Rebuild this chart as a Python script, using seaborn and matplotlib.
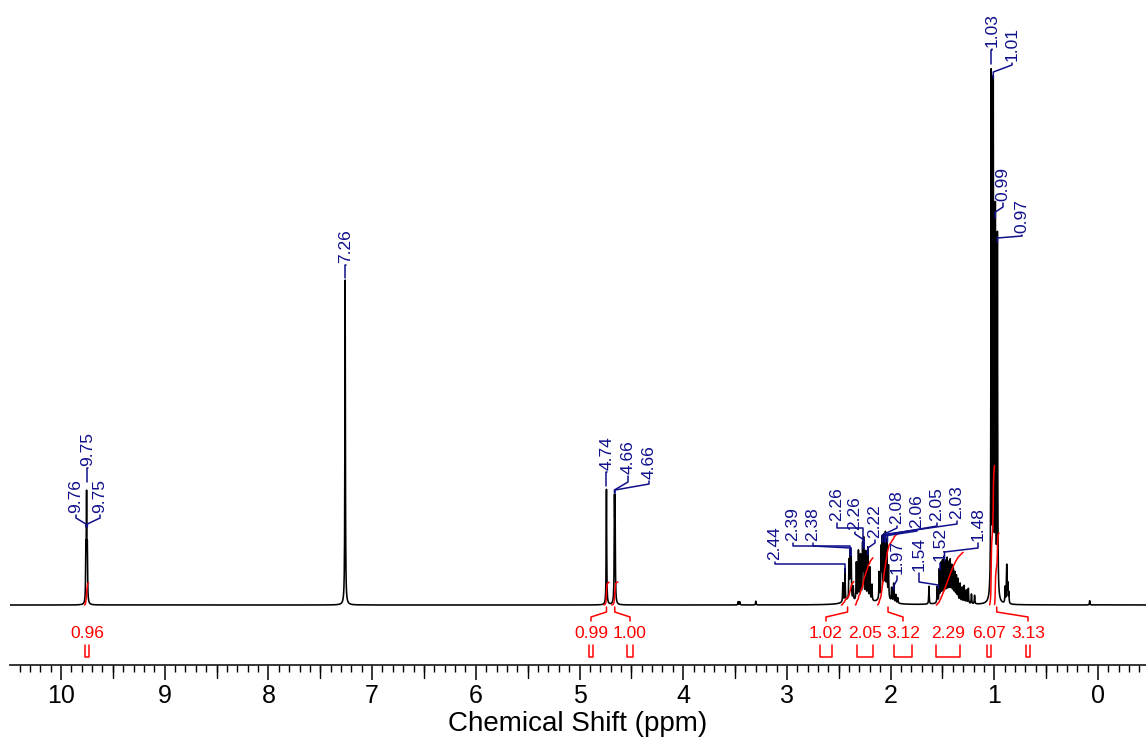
import numpy as np
import matplotlib
matplotlib.use("Agg")
import matplotlib.pyplot as plt
import matplotlib.transforms as mtransforms
from matplotlib.ticker import FixedLocator, MultipleLocator
import seaborn as sns

# ---------------- data ----------------
# peak list of the 1H spectrum: position (ppm) and apparent height (tallest = 1)
peak_ppm = [9.760, 9.753, 9.746,
            7.26,
            4.740, 4.663, 4.657,
            3.470, 3.455, 3.300,
            2.460, 2.440, 2.400, 2.390, 2.380, 2.360,
            2.330, 2.310, 2.290, 2.270, 2.260, 2.240, 2.220, 2.200, 2.180,
            2.110, 2.090, 2.080, 2.065, 2.050, 2.035, 2.020, 1.990, 1.970, 1.950, 1.930,
            1.630,
            1.550, 1.530, 1.515, 1.500, 1.485, 1.470, 1.455, 1.440, 1.425, 1.410,
            1.395, 1.380, 1.365, 1.350, 1.330, 1.310, 1.290, 1.270, 1.250, 1.220, 1.190,
            1.030, 1.010, 0.990, 0.970,
            0.895, 0.880, 0.870, 0.860,
            0.080]
peak_height = [0.09, 0.19, 0.09,
               0.605,
               0.215, 0.174, 0.174,
               0.006, 0.006, 0.007,
               0.035, 0.060, 0.070, 0.085, 0.080, 0.025,
               0.070, 0.090, 0.080, 0.095, 0.105, 0.085, 0.095, 0.060, 0.030,
               0.050, 0.090, 0.105, 0.110, 0.115, 0.105, 0.060, 0.025, 0.035, 0.015, 0.010,
               0.033,
               0.030, 0.060, 0.070, 0.072, 0.078, 0.068, 0.072, 0.062, 0.066, 0.056,
               0.052, 0.048, 0.044, 0.040, 0.034, 0.028, 0.032, 0.024, 0.028, 0.018, 0.016,
               0.975, 0.950, 0.715, 0.675,
               0.030, 0.070, 0.035, 0.020,
               0.008]
# broad underlying humps of the aliphatic multiplets
hump_ppm = [2.41, 2.26, 2.06, 1.42]
hump_height = [0.006, 0.010, 0.012, 0.014]

# peak labels (blue)
label_text = ["9.76", "9.75", "9.75", "7.26", "4.74", "4.66", "4.66",
              "2.44", "2.39", "2.38", "2.26", "2.26", "2.22",
              "2.08", "2.06", "2.05", "2.03", "1.97", "1.54", "1.52", "1.48",
              "1.03", "1.01", "0.99", "0.97"]
label_peak = [9.760, 9.753, 9.746, 7.26, 4.740, 4.663, 4.657,
              2.440, 2.390, 2.380, 2.265, 2.255, 2.220,
              2.080, 2.060, 2.050, 2.030, 1.970, 1.540, 1.520, 1.480,
              1.030, 1.010, 0.990, 0.970]

# integrals (red)
integral_value = ["0.96", "0.99", "1.00", "1.02", "2.05", "3.12", "2.29", "6.07", "3.13"]
integral_from = [9.775, 4.765, 4.690, 2.475, 2.340, 2.125, 1.560, 1.045, 0.998]
integral_to = [9.735, 4.715, 4.630, 2.355, 2.170, 1.925, 1.300, 0.998, 0.955]

major_ticks = list(range(0, 11))

# ---------------- layout helpers ----------------
X0, PXPPM = 1098.0, 103.7      # pixel of 0 ppm, pixels per ppm
BASE, PXU = 605.0, 537.0       # baseline pixel row, pixels per intensity unit

def px_x(p):
    return (X0 - p) / PXPPM

def px_y(p):
    return (BASE - p) / PXU

# label layout: text x (px), text bottom (px), elbow1 y, elbow2 y, end y (px)
label_layout = [
    (76, 513, 518, 524, 527), (88, 466, 468, 468, 482), (100, 513, 518, 524, 527),
    (346, 263, 265, 265, 278), (607, 470, 472, 472, 486),
    (628, 474, 482, 490, 493), (649, 479, 484, 490, 493),
    (775, 560, 564, 564, 572), (793, 541, 546, 546, 556), (813, 541, 546, 548, 556),
    (837, 521, 528, 528, 548), (855, 530, 534, 540, 548), (875, 538, 543, 548, 555),
    (897, 524, 528, 535, 542), (917, 528, 531, 536, 542), (937, 521, 526, 535, 542),
    (957, 519, 524, 534, 542), (897, 574, 580, 586, 590), (919, 571, 582, 585, 588),
    (940, 561, 564, 564, 570), (978, 541, 548, 552, 560),
    (992, 47, 50, 50, 64), (1012, 61, 65, 72, 78), (1003, 201, 207, 212, 218),
    (1022, 233, 236, 238, 242),
]
integral_label_px = [87, 591, 630, 826, 865, 903, 948, 989, 1028]
INT_SCALE = 23.0 / PXU   # height of integral curve per unit of integral

# ---------------- style ----------------
sns.set_theme(style="ticks")
plt.rcParams["font.family"] = ["Liberation Sans", "DejaVu Sans"]
BLUE = "#10108c"
RED = "#ff0000"

fig = plt.figure(figsize=(11.46, 7.42), dpi=100)
ax = fig.add_axes([10 / 1146, 77 / 742, 1136 / 1146, 665 / 742])

# ---------------- spectrum ----------------
grid = np.arange(-0.47, 10.50, 0.0004)
w = 0.0028
spec = np.zeros_like(grid)
for p, h in zip(peak_ppm, peak_height):
    spec += h / (1 + ((grid - p) / w) ** 2)
for p, h in zip(hump_ppm, hump_height):
    spec += h / (1 + ((grid - p) / 0.06) ** 2)

sns.lineplot(x=grid, y=spec, ax=ax, color="black", linewidth=1.15,
             estimator=None, sort=False, legend=False)

# ---------------- integrals ----------------
for val, a, b, lx in zip(integral_value, integral_from, integral_to, integral_label_px):
    m = (grid <= a) & (grid >= b)
    xs = grid[m][::-1]
    ys = spec[m][::-1]
    cum = np.cumsum(ys)
    cum = cum / cum[-1] * float(val) * INT_SCALE
    sns.lineplot(x=xs, y=cum, ax=ax, color=RED, linewidth=1.1,
                 estimator=None, sort=False, legend=False)
    center = (a + b) / 2
    lab = px_x(lx)
    if abs(center - lab) * PXPPM > 5:
        ax.plot([center, center, lab, lab],
                [px_y(607), px_y(612), px_y(617), px_y(621)],
                color=RED, lw=1.1, clip_on=False)
    ax.text(lab, px_y(633), val, color=RED, fontsize=12.5, ha="center", va="center")
    half = (a - b) / 2 * 0.9
    ax.plot([lab + half, lab + half, lab - half, lab - half],
            [px_y(645), px_y(657), px_y(657), px_y(645)],
            color=RED, lw=1.1, clip_on=False)

# ---------------- peak labels ----------------
for txt, pk, lay in zip(label_text, label_peak, label_layout):
    tx, tb, e1, e2, ey = lay
    xt = px_x(tx)
    ax.text(xt, px_y(tb), txt, rotation=90, color=BLUE, fontsize=12.5,
            ha="center", va="bottom")
    ax.plot([xt, xt, pk, pk], [px_y(tb + 2), px_y(e1), px_y(e2), px_y(ey)],
            color=BLUE, lw=1.1)

# ---------------- axes ----------------
ax.set_xlim(px_x(10), px_x(1146))
ax.set_ylim(px_y(665), px_y(0))
for s in ["top", "right", "left"]:
    ax.spines[s].set_visible(False)
ax.spines["bottom"].set_linewidth(1.3)
ax.set_yticks([])
ax.xaxis.set_major_locator(FixedLocator(major_ticks))
ax.xaxis.set_minor_locator(MultipleLocator(0.1))
ax.set_xticklabels([str(t) for t in major_ticks])
ax.tick_params(axis="x", which="major", direction="out", length=11, width=1.1,
               labelsize=18, pad=3, color="black", labelcolor="black")
ax.tick_params(axis="x", which="minor", direction="out", length=5, width=1.0,
               color="black")
trans = mtransforms.blended_transform_factory(ax.transData, ax.transAxes)
for h in np.arange(0.5, 10.0, 1.0):
    ax.plot([h, h], [0, -13 / 665], color="black", lw=1.0, transform=trans,
            clip_on=False)
ax.set_xlabel("Chemical Shift (ppm)", fontsize=20, labelpad=2, color="black")
ax.grid(False)
ax.set_facecolor("white")
fig.patch.set_facecolor("white")

fig.savefig("out.png", dpi=100)
